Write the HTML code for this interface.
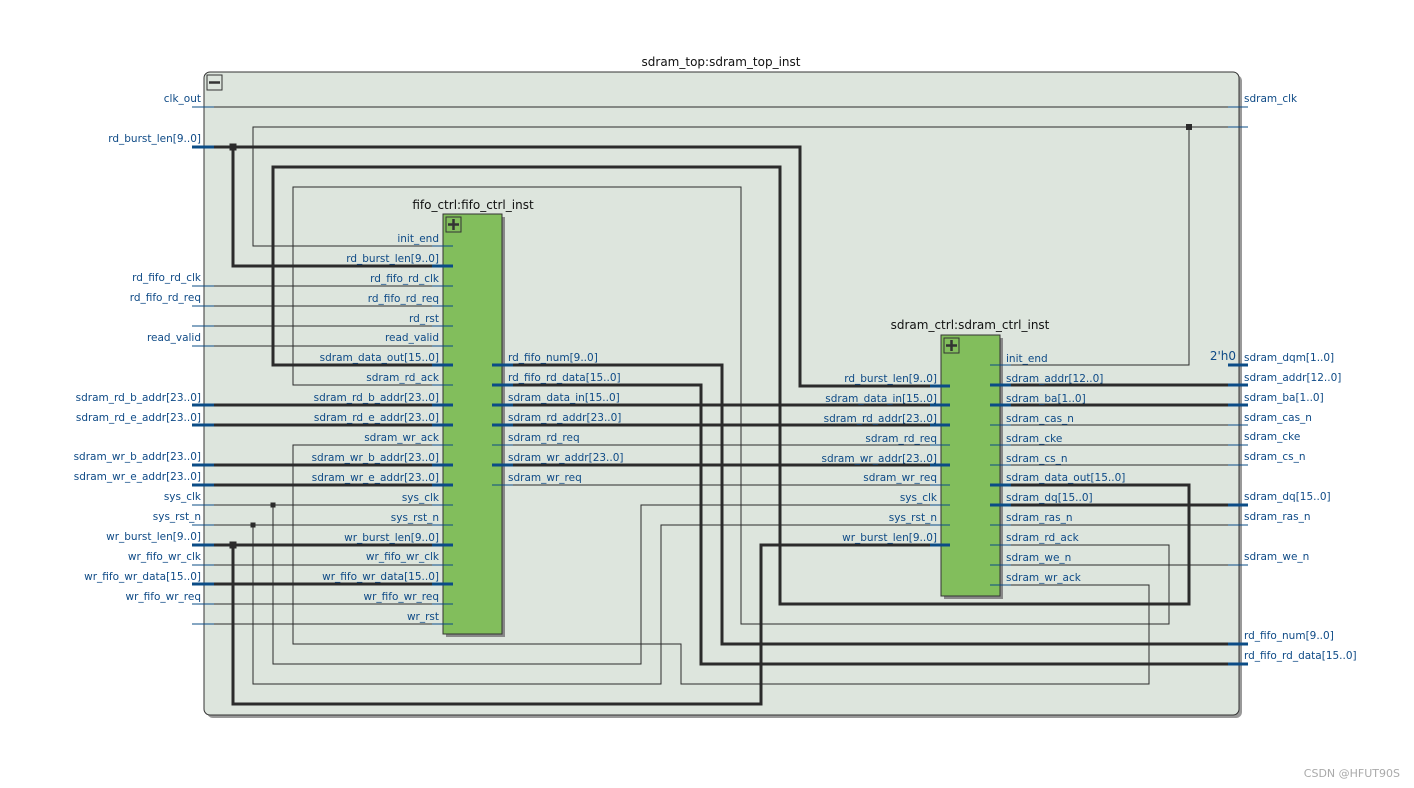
<!DOCTYPE html>
<html><head><meta charset="utf-8"><style>
html,body{margin:0;padding:0;background:#fff;width:1414px;height:788px;overflow:hidden}
svg text{font-family:"DejaVu Sans","Liberation Sans",sans-serif;font-size:10.5px;fill:#0e4a86}
</style></head><body>
<svg width="1414" height="788" viewBox="0 0 1414 788" xmlns="http://www.w3.org/2000/svg">
<!-- outer -->
<rect x="207" y="75" width="1035" height="643" rx="6" fill="#999"/>
<rect x="204" y="72" width="1035" height="643" rx="6" fill="#dde5dd" stroke="#333" stroke-width="1"/>
<text x="721" y="66" text-anchor="middle" style="fill:#111;font-size:12px">sdram_top:sdram_top_inst</text>
<rect x="207" y="75" width="15" height="15" fill="none" stroke="#333"/>
<line x1="209" y1="82.5" x2="220" y2="82.5" stroke="#333" stroke-width="2.5"/>

<!-- fifo block -->
<rect x="446" y="217" width="59" height="420" fill="#888"/>
<rect x="443" y="214" width="59" height="420" fill="#82be5c" stroke="#333"/>
<rect x="446" y="217" width="15" height="15" fill="none" stroke="#333"/>
<path d="M448 224.5h11M453.5 219v11" stroke="#333" stroke-width="2.5"/>
<text x="473" y="209" text-anchor="middle" style="fill:#111;font-size:12px">fifo_ctrl:fifo_ctrl_inst</text>
<!-- sdram ctrl block -->
<rect x="944" y="338" width="59" height="261" fill="#888"/>
<rect x="941" y="335" width="59" height="261" fill="#82be5c" stroke="#333"/>
<rect x="944" y="338" width="15" height="15" fill="none" stroke="#333"/>
<path d="M946 345.5h11M951.5 340v11" stroke="#333" stroke-width="2.5"/>
<text x="970" y="329" text-anchor="middle" style="fill:#111;font-size:12px">sdram_ctrl:sdram_ctrl_inst</text>

<g fill="none" stroke="#2b2b2b" stroke-width="1">
<!-- thin wires -->
<path d="M204 107H1248"/>
<path d="M443 246H253V127H1248M1189 127V365H1000"/>
<path d="M204 286H443M204 306H443M204 326H443M204 346H443M204 565H443M204 604H443M204 624H443"/>
<path d="M443 385H293V187H741V624H1169V545H1000"/>
<path d="M443 445H293V644H681V684H1149V585H1000"/>
<path d="M204 505H443M273 505V664H641V505H941"/>
<path d="M204 525H443M253 525V684H661V525H941"/>
<path d="M502 445H941M502 485H941"/>
<path d="M1000 425H1248M1000 445H1248M1000 465H1248M1000 525H1248M1000 565H1248"/>
</g>
<g fill="none" stroke="#2b2b2b" stroke-width="3">
<path d="M204 147H800V386H941M233 147V266H443"/>
<path d="M1000 485H1189V604H780V167H273V365H443"/>
<path d="M204 405H443M204 425H443M204 465H443M204 485H443M204 584H443"/>
<path d="M204 545H443M233 545V704H761V545H941"/>
<path d="M502 365H722V644H1248M502 385H701V664H1248"/>
<path d="M502 405H941M502 425H941M502 465H941"/>
<path d="M1000 385H1248M1000 405H1248M1000 505H1248"/>
</g>
<!-- junctions -->
<g fill="#2b2b2b">
<rect x="229.5" y="143.5" width="7" height="7"/>
<rect x="229.5" y="541.5" width="7" height="7"/>
<rect x="1186" y="124" width="6" height="6"/>
<rect x="270.5" y="502.5" width="5" height="5"/>
<rect x="250.5" y="522.5" width="5" height="5"/>
</g>
<!-- blue stubs -->
<g stroke="#0b4c86" fill="none">
<g stroke-width="1">
<path d="M192 107h22M192 286h22M192 306h22M192 326h22M192 346h22M192 505h22M192 525h22M192 565h22M192 604h22M192 624h22"/>
<path d="M432 246h21M432 286h21M432 306h21M432 326h21M432 346h21M432 385h21M432 445h21M432 505h21M432 525h21M432 565h21M432 604h21M432 624h21"/>
<path d="M492 445h21M492 485h21"/>
<path d="M930 445h20M930 485h20M930 505h20M930 525h20"/>
<path d="M990 365h21M990 425h21M990 445h21M990 465h21M990 525h21M990 545h21M990 565h21M990 585h21"/>
<path d="M1228 107h20M1228 127h20M1228 425h20M1228 445h20M1228 465h20M1228 525h20M1228 565h20"/>
</g>
<g stroke-width="3">
<path d="M192 147h22M192 405h22M192 425h22M192 465h22M192 485h22M192 545h22M192 584h22"/>
<path d="M432 266h21M432 365h21M432 405h21M432 425h21M432 465h21M432 485h21M432 545h21M432 584h21"/>
<path d="M492 365h21M492 385h21M492 405h21M492 425h21M492 465h21"/>
<path d="M930 386h20M930 405h20M930 425h20M930 465h20M930 545h20"/>
<path d="M990 385h21M990 405h21M990 485h21M990 505h21"/>
<path d="M1228 365h20M1228 385h20M1228 405h20M1228 505h20M1228 644h20M1228 664h20"/>
</g>
</g>

<!-- left outer labels -->
<g text-anchor="end">
<text x="201" y="102">clk_out</text>
<text x="201" y="142">rd_burst_len[9..0]</text>
<text x="201" y="281">rd_fifo_rd_clk</text>
<text x="201" y="301">rd_fifo_rd_req</text>
<text x="201" y="341">read_valid</text>
<text x="201" y="401">sdram_rd_b_addr[23..0]</text>
<text x="201" y="421">sdram_rd_e_addr[23..0]</text>
<text x="201" y="460">sdram_wr_b_addr[23..0]</text>
<text x="201" y="480">sdram_wr_e_addr[23..0]</text>
<text x="201" y="500">sys_clk</text>
<text x="201" y="520">sys_rst_n</text>
<text x="201" y="540">wr_burst_len[9..0]</text>
<text x="201" y="560">wr_fifo_wr_clk</text>
<text x="201" y="580">wr_fifo_wr_data[15..0]</text>
<text x="201" y="600">wr_fifo_wr_req</text>
<!-- fifo left -->
<text x="439" y="242">init_end</text>
<text x="439" y="262">rd_burst_len[9..0]</text>
<text x="439" y="282">rd_fifo_rd_clk</text>
<text x="439" y="302">rd_fifo_rd_req</text>
<text x="439" y="322">rd_rst</text>
<text x="439" y="341">read_valid</text>
<text x="439" y="361">sdram_data_out[15..0]</text>
<text x="439" y="381">sdram_rd_ack</text>
<text x="439" y="401">sdram_rd_b_addr[23..0]</text>
<text x="439" y="421">sdram_rd_e_addr[23..0]</text>
<text x="439" y="441">sdram_wr_ack</text>
<text x="439" y="461">sdram_wr_b_addr[23..0]</text>
<text x="439" y="481">sdram_wr_e_addr[23..0]</text>
<text x="439" y="501">sys_clk</text>
<text x="439" y="521">sys_rst_n</text>
<text x="439" y="541">wr_burst_len[9..0]</text>
<text x="439" y="560">wr_fifo_wr_clk</text>
<text x="439" y="580">wr_fifo_wr_data[15..0]</text>
<text x="439" y="600">wr_fifo_wr_req</text>
<text x="439" y="620">wr_rst</text>
<!-- sdram ctrl left -->
<text x="937" y="382">rd_burst_len[9..0]</text>
<text x="937" y="402">sdram_data_in[15..0]</text>
<text x="937" y="422">sdram_rd_addr[23..0]</text>
<text x="937" y="442">sdram_rd_req</text>
<text x="937" y="462">sdram_wr_addr[23..0]</text>
<text x="937" y="481">sdram_wr_req</text>
<text x="937" y="501">sys_clk</text>
<text x="937" y="521">sys_rst_n</text>
<text x="937" y="541">wr_burst_len[9..0]</text>
</g>
<!-- fifo right -->
<text x="508" y="361">rd_fifo_num[9..0]</text>
<text x="508" y="381">rd_fifo_rd_data[15..0]</text>
<text x="508" y="401">sdram_data_in[15..0]</text>
<text x="508" y="421">sdram_rd_addr[23..0]</text>
<text x="508" y="441">sdram_rd_req</text>
<text x="508" y="461">sdram_wr_addr[23..0]</text>
<text x="508" y="481">sdram_wr_req</text>
<!-- sdram ctrl right -->
<text x="1006" y="362">init_end</text>
<text x="1006" y="382">sdram_addr[12..0]</text>
<text x="1006" y="402">sdram_ba[1..0]</text>
<text x="1006" y="422">sdram_cas_n</text>
<text x="1006" y="442">sdram_cke</text>
<text x="1006" y="462">sdram_cs_n</text>
<text x="1006" y="481">sdram_data_out[15..0]</text>
<text x="1006" y="501">sdram_dq[15..0]</text>
<text x="1006" y="521">sdram_ras_n</text>
<text x="1006" y="541">sdram_rd_ack</text>
<text x="1006" y="561">sdram_we_n</text>
<text x="1006" y="581">sdram_wr_ack</text>
<!-- outer right -->
<text x="1236" y="360" text-anchor="end" style="font-size:12px">2'h0</text>
<text x="1244" y="102">sdram_clk</text>
<text x="1244" y="361">sdram_dqm[1..0]</text>
<text x="1244" y="381">sdram_addr[12..0]</text>
<text x="1244" y="401">sdram_ba[1..0]</text>
<text x="1244" y="421">sdram_cas_n</text>
<text x="1244" y="440">sdram_cke</text>
<text x="1244" y="460">sdram_cs_n</text>
<text x="1244" y="500">sdram_dq[15..0]</text>
<text x="1244" y="520">sdram_ras_n</text>
<text x="1244" y="560">sdram_we_n</text>
<text x="1244" y="639">rd_fifo_num[9..0]</text>
<text x="1244" y="659">rd_fifo_rd_data[15..0]</text>

<text x="1400" y="777" text-anchor="end" style="fill:#aaa;font-size:11px">CSDN @HFUT90S</text>
</svg>
</body></html>
